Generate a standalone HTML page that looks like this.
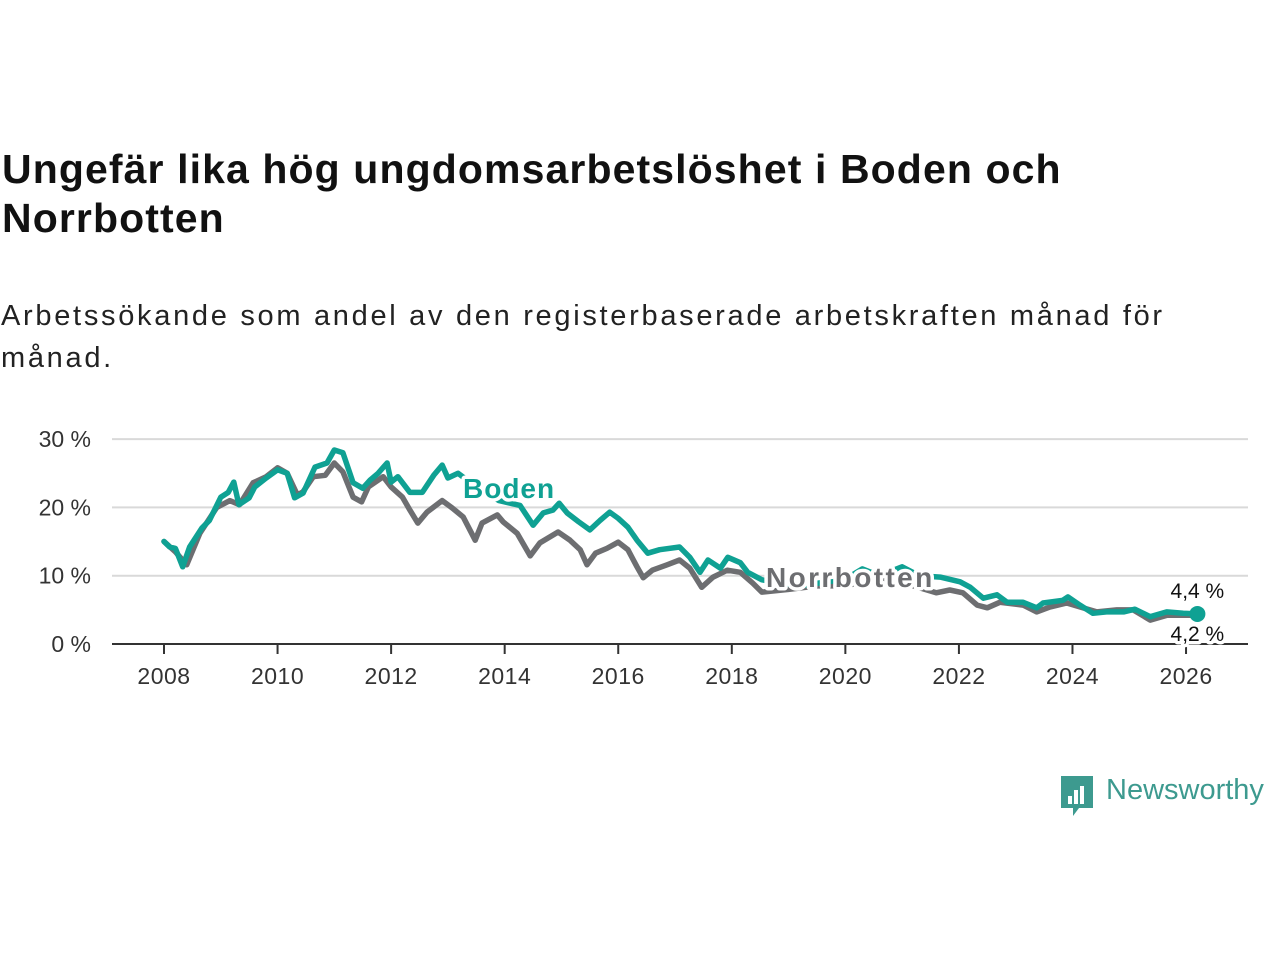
<!DOCTYPE html>
<html><head><meta charset="utf-8">
<style>
body{margin:0;background:#fff;font-family:"Liberation Sans",sans-serif;}
#wrap{position:relative;width:1280px;height:960px;overflow:hidden;}
h1{position:absolute;left:2px;top:145px;margin:0;font-size:41px;line-height:49px;font-weight:bold;color:#111;width:1100px;letter-spacing:1.1px;}
p.sub{position:absolute;left:1px;top:295px;margin:0;font-size:29px;line-height:42px;color:#222;width:1180px;letter-spacing:2.7px;}
svg{position:absolute;left:0;top:0;}
</style></head><body>
<div id="wrap">
<h1>Ungefär lika hög ungdomsarbetslöshet i Boden och Norrbotten</h1>
<p class="sub">Arbetssökande som andel av den registerbaserade arbetskraften månad för månad.</p>
<svg id="chart" width="1280" height="960"></svg>
<div style="position:absolute;left:1059px;top:774px;width:221px;height:44px;">
<svg width="36" height="44" style="position:absolute;left:0;top:0"><path d="M2 2h32v32H20l-6 8v-8H2z" fill="#3d9a8f"/><rect x="9" y="22" width="4" height="8" fill="#fff"/><rect x="15" y="16" width="4" height="14" fill="#fff"/><rect x="21" y="12" width="4" height="18" fill="#fff"/></svg>
<span style="position:absolute;left:47px;top:0px;font-size:29px;color:#3d9a8f;">Newsworthy</span></div>
</div>
<script>
const yearsB=[2008.0,2008.1,2008.2,2008.33,2008.45,2008.67,2008.8,2009.0,2009.13,2009.23,2009.32,2009.5,2009.6,2009.8,2010.0,2010.17,2010.3,2010.45,2010.66,2010.87,2011.0,2011.15,2011.33,2011.5,2011.63,2011.77,2011.93,2012.0,2012.12,2012.33,2012.55,2012.75,2012.9,2013.0,2013.18,2013.5,2013.9,2014.27,2014.5,2014.68,2014.85,2014.96,2015.1,2015.3,2015.5,2015.68,2015.85,2016.0,2016.17,2016.33,2016.52,2016.73,2017.08,2017.26,2017.44,2017.58,2017.8,2017.93,2018.15,2018.28,2018.53,2018.8,2019.2,2019.6,2020.0,2020.3,2020.6,2021.0,2021.3,2021.67,2022.02,2022.2,2022.43,2022.67,2022.85,2023.13,2023.37,2023.48,2023.83,2023.92,2024.13,2024.36,2024.6,2024.9,2025.1,2025.37,2025.66,2025.95,2026.2];
const boden=[15.0,14.2,14.0,11.3,14.2,17.0,18.1,21.5,22.2,23.7,20.4,21.4,23.0,24.3,25.5,25.0,21.4,22.1,25.9,26.5,28.4,28.0,23.6,22.8,24.0,25.0,26.5,23.7,24.5,22.2,22.2,24.7,26.2,24.3,25.0,23.0,21.0,20.3,17.4,19.2,19.6,20.6,19.2,17.9,16.7,18.1,19.3,18.4,17.1,15.2,13.3,13.8,14.2,12.7,10.5,12.3,11.1,12.7,11.9,10.5,9.4,9.0,8.5,9.0,9.5,11.0,10.0,11.3,10.0,9.8,9.1,8.3,6.7,7.2,6.1,6.1,5.3,6.0,6.4,6.9,5.7,4.5,4.7,4.7,5.1,4.0,4.7,4.5,4.4];
const yearsN=[2008.0,2008.2,2008.4,2008.63,2008.93,2009.16,2009.33,2009.57,2009.8,2010.0,2010.17,2010.35,2010.45,2010.63,2010.84,2011.0,2011.15,2011.33,2011.48,2011.6,2011.86,2012.0,2012.2,2012.33,2012.47,2012.63,2012.9,2013.08,2013.27,2013.48,2013.6,2013.87,2013.97,2014.22,2014.45,2014.62,2014.94,2015.15,2015.33,2015.45,2015.6,2015.8,2016.0,2016.17,2016.33,2016.44,2016.6,2016.86,2017.08,2017.26,2017.47,2017.67,2017.92,2018.15,2018.37,2018.53,2019.0,2019.5,2020.0,2020.5,2021.0,2021.4,2021.6,2021.84,2022.07,2022.32,2022.5,2022.72,2023.13,2023.37,2023.6,2023.9,2024.18,2024.43,2024.78,2025.07,2025.37,2025.66,2025.95,2026.2];
const norrbotten=[15.0,13.5,11.6,16.2,20.0,21.0,20.4,23.6,24.5,25.8,25.0,21.8,22.3,24.5,24.7,26.5,25.2,21.5,20.8,23.0,24.5,23.0,21.5,19.6,17.7,19.3,21.0,19.9,18.6,15.2,17.7,18.9,17.9,16.2,12.9,14.8,16.4,15.2,13.8,11.6,13.3,14.0,14.9,13.8,11.3,9.7,10.8,11.6,12.3,11.1,8.3,9.8,10.8,10.5,8.9,7.6,8.0,8.5,8.5,9.5,9.0,8.0,7.5,7.9,7.5,5.7,5.3,6.1,5.7,4.7,5.4,6.0,5.3,4.7,5.0,5.0,3.5,4.2,4.2,4.2];
const yTicks=[0,10,20,30];
const yTickLabels=["0 %","10 %","20 %","30 %"];
const xTicks=[2008,2010,2012,2014,2016,2018,2020,2022,2024,2026];
const NS="http://www.w3.org/2000/svg";
const svg=document.getElementById('chart');
const xs=y=>164+(y-2008)*56.78;
const ys=v=>644-v*6.83;
function mk(t,a){const e=document.createElementNS(NS,t);for(const k in a)e.setAttribute(k,a[k]);svg.appendChild(e);return e;}
yTicks.forEach((t,i)=>{
 if(t>0){const g=mk('line',{x1:112,x2:1248,y1:ys(t),y2:ys(t),stroke:'#d9d9d9','stroke-width':2});
 
 }
 const l=mk('text',{x:91,y:ys(t)+8,'text-anchor':'end','font-size':23,fill:'#333'});l.textContent=yTickLabels[i];
 
 
});
const ax=mk('line',{x1:112,x2:1248,y1:644,y2:644,stroke:'#333','stroke-width':2});


xTicks.forEach(t=>{
 const tk=mk('line',{x1:xs(t),x2:xs(t),y1:644,y2:654,stroke:'#333','stroke-width':2});
 
 
 const l=mk('text',{x:xs(t),y:684,'text-anchor':'middle','font-size':23,fill:'#333','letter-spacing':'0.5'});l.textContent=t;
 
 
});
function line(xa,va,c,name){
 const d=xa.map((x,i)=>(i?'L':'M')+xs(x).toFixed(1)+' '+ys(va[i]).toFixed(1)).join(' ');
 const p=mk('path',{d:d,fill:'none',stroke:c,'stroke-width':5.5,'stroke-linejoin':'round','stroke-linecap':'round'});
 
 
}
line(yearsN,norrbotten,'#6d6e71','norrbotten-line');
line(yearsB,boden,'#0fa193','boden-line');
const dot=mk('circle',{cx:xs(yearsB[yearsB.length-1]),cy:ys(boden[boden.length-1]),r:8,fill:'#0fa193'});


function lbl(txt,x,y,size,c,w,anchor,name,ls){
 const t=mk('text',{x:x,y:y,'font-size':size,fill:c,'font-weight':w,'text-anchor':anchor,stroke:'#fff','stroke-width':7,'paint-order':'stroke','stroke-linejoin':'round','letter-spacing':ls});
 t.textContent=txt;
 
 
}
lbl('Boden',463,498,28,'#0fa193','bold','start','boden-label','1');
lbl('Norrbotten',766,587,28,'#6d6e71','bold','start','norrbotten-label','2.4');
lbl('4,4 %',xs(yearsB[yearsB.length-1]),598,21,'#111','normal','middle','boden-end-value','0');
lbl('4,2 %',xs(yearsN[yearsN.length-1]),641,21,'#111','normal','middle','norrbotten-end-value','0');
</script>
</body></html>
